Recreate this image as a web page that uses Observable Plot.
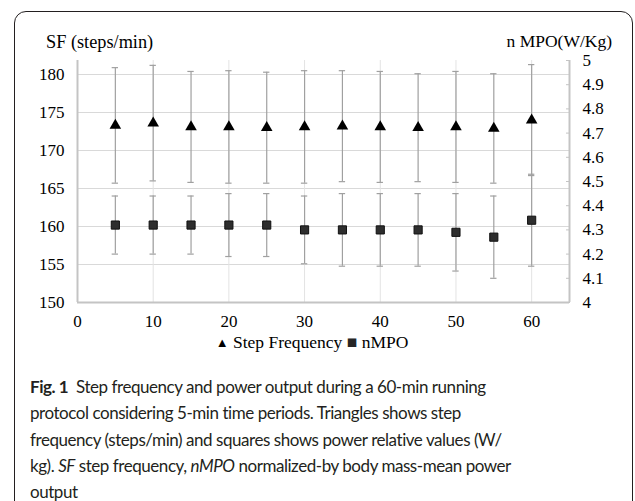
<!DOCTYPE html>
<html>
<head>
<meta charset="utf-8">
<script src="https://cdn.jsdelivr.net/npm/d3@7"></script>
<script src="https://cdn.jsdelivr.net/npm/@observablehq/plot@0.6"></script>
<style>
  html, body { margin: 0; padding: 0; background: #fff; }
  #wrap { position: relative; width: 635px; height: 501px; overflow: hidden; }
  #box { position: absolute; left: 14px; top: 11px; width: 617px; height: 600px;
         border: 1.5px solid #231f20; border-radius: 12px; }
  #chart { position: absolute; left: 0; top: 0; }
  #chart svg text { font-family: "Liberation Serif", serif !important; font-size: 17px !important; fill: #000; }
  .serif { font-family: "Liberation Serif", serif; color: #000; position: absolute; white-space: nowrap; }
  #ytitle { left: 46px; top: 32px; font-size: 18.3px; }
  #y2title { right: 23px; top: 31px; font-size: 17.5px; }
  #legend { left: 0; width: 624px; text-align: center; top: 332px; font-size: 17.5px; }
  #legend .tri { font-size: 13px; position: relative; top: -1px; }
  #legend .sq { font-size: 17.5px; color: #262626; }
  #caption { position: absolute; left: 30px; top: 374px; font-family: "Lato", sans-serif;
             font-size: 17px; letter-spacing: -0.45px; line-height: 26.3px; color: #231f20; white-space: nowrap; }
  #caption b { font-weight: 700; }
</style>
</head>
<body>
<div id="wrap">
  <div id="box"></div>
  <div id="chart"></div>
  <div id="ytitle" class="serif">SF (steps/min)</div>
  <div id="y2title" class="serif">n MPO(W/Kg)</div>
  <div id="legend" class="serif"><span class="tri">▲</span> Step Frequency <span class="sq">■</span> nMPO</div>
  <div id="caption">
    <b>Fig. 1</b>&nbsp; Step frequency and power output during a 60-min running<br>
    protocol considering 5-min time periods. Triangles shows step<br>
    frequency (steps/min) and squares shows power relative values (W/<br>
    kg). <i>SF</i> step frequency, <i>nMPO</i> normalized-by body mass-mean power<br>
    output
  </div>
</div>
<script>
// ---- data ----
const minutes = [5, 10, 15, 20, 25, 30, 35, 40, 45, 50, 55, 60];
const sfMean  = [173.3, 173.6, 173.1, 173.1, 173.0, 173.1, 173.2, 173.1, 173.0, 173.1, 172.9, 174.0];
const sfSD    = [7.6, 7.6, 7.3, 7.4, 7.3, 7.4, 7.3, 7.3, 7.1, 7.3, 7.2, 7.3];
const mpoMean = [4.32, 4.32, 4.32, 4.32, 4.32, 4.30, 4.30, 4.30, 4.30, 4.29, 4.27, 4.34];
const mpoSD   = [0.12, 0.12, 0.12, 0.13, 0.13, 0.14, 0.15, 0.15, 0.15, 0.16, 0.17, 0.19];
const xTicks  = [0, 10, 20, 30, 40, 50, 60];
const sfTicks = [150, 155, 160, 165, 170, 175, 180];
const mpoTicks = [4, 4.1, 4.2, 4.3, 4.4, 4.5, 4.6, 4.7, 4.8, 4.9, 5];
const xDomain = [0, 65];
const sfDomain = [150, 181.84];
const mpoDomain = [4, 5];

// map right-axis values into left-axis units (dual axis)
const k = (sfDomain[1] - sfDomain[0]) / (mpoDomain[1] - mpoDomain[0]);
const toLeft = v => sfDomain[0] + (v - mpoDomain[0]) * k;
const fromLeft = y => mpoDomain[0] + (y - sfDomain[0]) / k;

const sf = minutes.map((m, i) => ({m, y: sfMean[i], lo: sfMean[i] - sfSD[i], hi: sfMean[i] + sfSD[i]}));
const mpo = minutes.map((m, i) => ({m, y: toLeft(mpoMean[i]), lo: toLeft(mpoMean[i] - mpoSD[i]), hi: toLeft(mpoMean[i] + mpoSD[i])}));
const caps = [...sf, ...mpo].flatMap(d => [{m: d.m, v: d.lo}, {m: d.m, v: d.hi}]);
const capHalf = 0.42;

const errColor = "#a0a0a0";
const fs = 17;
const plot = Plot.plot({
  width: 635,
  height: 332,
  marginLeft: 77,
  marginRight: 66,
  marginTop: 60,
  marginBottom: 30,
  style: {fontFamily: "Liberation Serif, serif", fontSize: "17px", color: "#000", background: "transparent"},
  x: {domain: xDomain, nice: false},
  y: {domain: sfDomain, nice: false},
  marks: [
    Plot.gridY(sfTicks, {stroke: "#d9d9d9", strokeOpacity: 1, strokeWidth: 1}),
    Plot.gridX(xTicks.filter(t => t > 0), {stroke: "#e3e3e3", strokeOpacity: 1, strokeWidth: 1}),
    Plot.ruleX([xDomain[0]], {stroke: "#c4c4c4", strokeWidth: 2}),
    Plot.ruleX([xDomain[1]], {stroke: "#c4c4c4", strokeWidth: 2}),
    Plot.ruleY([sfDomain[0]], {stroke: "#c4c4c4", strokeWidth: 2}),
    Plot.axisY(sfTicks, {anchor: "left", tickSize: 0, tickPadding: 13, label: null, fontSize: fs}),
    Plot.axisX(xTicks, {anchor: "bottom", tickSize: 0, tickPadding: 12, label: null, fontSize: fs}),
    Plot.axisY(mpoTicks.map(toLeft), {anchor: "right", tickSize: 4, dx: -4, text: null, stroke: "#c4c4c4", label: null}),
    Plot.axisY(mpoTicks.map(toLeft), {anchor: "right", tickSize: 0, tickPadding: 13, label: null, fontSize: fs,
      tickFormat: d => String(Math.round(fromLeft(d) * 10) / 10)}),
    // error bars
    Plot.ruleX(sf, {x: "m", y1: "lo", y2: "hi", stroke: errColor, strokeWidth: 1.2}),
    Plot.ruleX(mpo, {x: "m", y1: "lo", y2: "hi", stroke: errColor, strokeWidth: 1.2}),
    Plot.ruleY(caps, {y: "v", x1: d => d.m - capHalf, x2: d => d.m + capHalf, stroke: errColor, strokeWidth: 1.2}),
    // markers
    Plot.dot(mpo, {x: "m", y: "y", symbol: "square", r: 4.6, fill: "#2e2e2e", stroke: "#111", strokeWidth: 1}),
    Plot.dot(sf, {x: "m", y: "y", symbol: "triangle", r: 4.3, fill: "#000", stroke: "none"})
  ]
});
document.getElementById("chart").appendChild(plot);
</script>
</body>
</html>
